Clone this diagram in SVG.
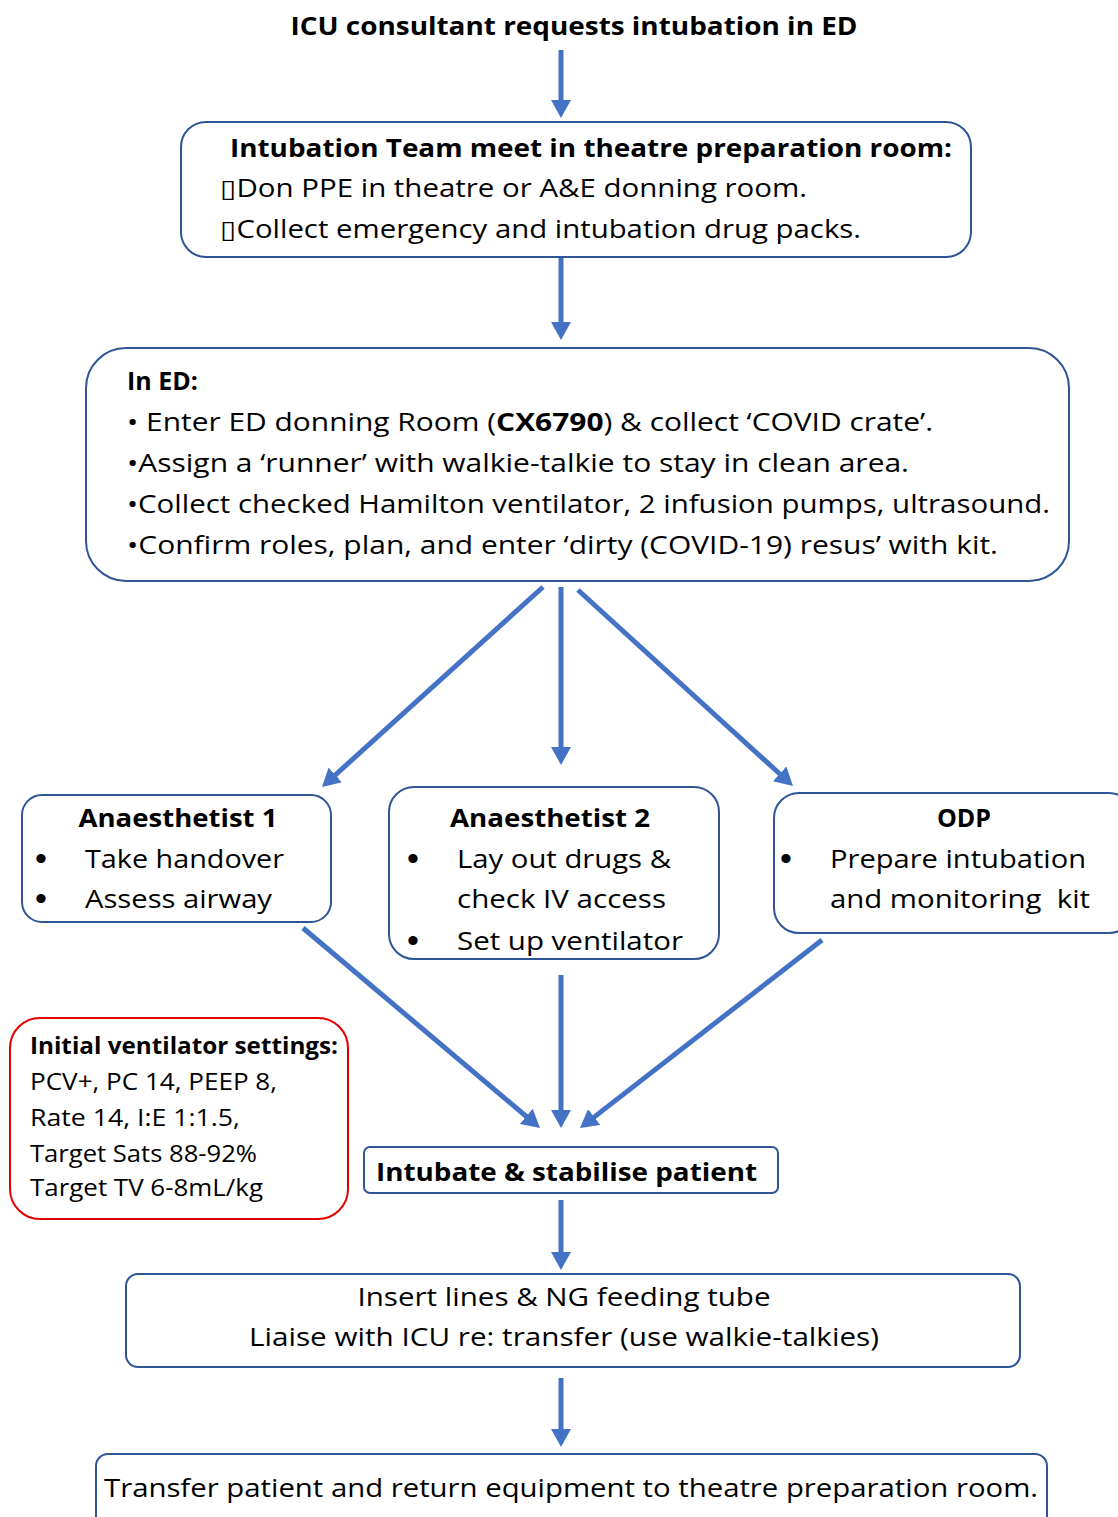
<svg xmlns="http://www.w3.org/2000/svg" width="1118" height="1517" viewBox="0 0 1118 1517">
<defs>
<style>
text{font-family:"Open Sans","Liberation Sans",sans-serif;fill:#000;white-space:pre;}
.t{font-size:25px;}
.b{font-size:25px;font-weight:bold;}
.s{font-size:23px;}
.sb{font-size:23px;font-weight:bold;}
.bul{font-size:34px;font-family:"Liberation Sans",sans-serif;}
.box{fill:#fff;stroke:#2F5597;stroke-width:2;}
.red{fill:#fff;stroke:#E00000;stroke-width:2;}
.c line{stroke:#4472C4;stroke-width:5;marker-end:url(#ah);}
</style>
<marker id="ah" markerUnits="userSpaceOnUse" markerWidth="18" markerHeight="20" refX="1" refY="10" orient="auto">
<path d="M0,0 L18,10 L0,20 z" fill="#4472C4"/>
</marker>
</defs>
<rect width="1118" height="1517" fill="#fff"/>

<g id="title"><text class="b" x="574" y="35" text-anchor="middle" textLength="567" lengthAdjust="spacingAndGlyphs">ICU consultant requests intubation in ED</text></g>

<g id="meet">
<rect class="box" x="181" y="122" width="790" height="135" rx="25"/>
<text class="b" x="230" y="157" textLength="722" lengthAdjust="spacingAndGlyphs">Intubation Team meet in theatre preparation room:</text>
<text class="t" x="220" y="197" textLength="587" lengthAdjust="spacingAndGlyphs">▯Don PPE in theatre or A&amp;E donning room.</text>
<text class="t" x="220" y="238" textLength="641" lengthAdjust="spacingAndGlyphs">▯Collect emergency and intubation drug packs.</text>
</g>

<g id="ined">
<rect class="box" x="86" y="348" width="983" height="233" rx="40"/>
<text class="b" x="127" y="390">In ED:</text>
<text class="t" x="127" y="431" textLength="806" lengthAdjust="spacingAndGlyphs">• Enter ED donning Room (<tspan font-weight="bold">CX6790</tspan>) &amp; collect ‘COVID crate’.</text>
<text class="t" x="127" y="472" textLength="782" lengthAdjust="spacingAndGlyphs">•Assign a ‘runner’ with walkie-talkie to stay in clean area.</text>
<text class="t" x="127" y="513" textLength="923" lengthAdjust="spacingAndGlyphs">•Collect checked Hamilton ventilator, 2 infusion pumps, ultrasound.</text>
<text class="t" x="127" y="554" textLength="871" lengthAdjust="spacingAndGlyphs">•Confirm roles, plan, and enter ‘dirty (COVID-19) resus’ with kit.</text>
</g>

<g id="anaes1">
<rect class="box" x="22" y="795" width="309" height="127" rx="20"/>
<text class="b" x="178" y="827" text-anchor="middle" textLength="199" lengthAdjust="spacingAndGlyphs">Anaesthetist 1</text>
<text class="bul" x="35" y="870">•</text>
<text class="t" x="85" y="868" textLength="199" lengthAdjust="spacingAndGlyphs">Take handover</text>
<text class="bul" x="35" y="910">•</text>
<text class="t" x="85" y="908" textLength="187" lengthAdjust="spacingAndGlyphs">Assess airway</text>
</g>

<g id="anaes2">
<rect class="box" x="389" y="787" width="330" height="172" rx="25"/>
<text class="b" x="550" y="827" text-anchor="middle" textLength="200" lengthAdjust="spacingAndGlyphs">Anaesthetist 2</text>
<text class="bul" x="407" y="870">•</text>
<text class="t" x="457" y="868" textLength="214" lengthAdjust="spacingAndGlyphs">Lay out drugs &amp;</text>
<text class="t" x="457" y="908" textLength="209" lengthAdjust="spacingAndGlyphs">check IV access</text>
<text class="bul" x="407" y="952">•</text>
<text class="t" x="457" y="950" textLength="226" lengthAdjust="spacingAndGlyphs">Set up ventilator</text>
</g>

<g id="odp">
<rect class="box" x="774" y="793" width="360" height="140" rx="25"/>
<text class="b" x="964" y="827" text-anchor="middle">ODP</text>
<text class="bul" x="780" y="870">•</text>
<text class="t" x="830" y="868" textLength="256" lengthAdjust="spacingAndGlyphs">Prepare intubation</text>
<text class="t" x="830" y="908" textLength="260" lengthAdjust="spacingAndGlyphs">and monitoring  kit</text>
</g>

<g id="vent">
<rect class="red" x="10" y="1018" width="338" height="201" rx="30"/>
<text class="sb" x="30" y="1054" textLength="308" lengthAdjust="spacingAndGlyphs">Initial ventilator settings:</text>
<text class="s" x="30" y="1090" textLength="247" lengthAdjust="spacingAndGlyphs">PCV+, PC 14, PEEP 8,</text>
<text class="s" x="30" y="1126" textLength="210" lengthAdjust="spacingAndGlyphs">Rate 14, I:E 1:1.5,</text>
<text class="s" x="30" y="1162" textLength="227" lengthAdjust="spacingAndGlyphs">Target Sats 88-92%</text>
<text class="s" x="30" y="1196" textLength="233" lengthAdjust="spacingAndGlyphs">Target TV 6-8mL/kg</text>
</g>

<g id="intubate">
<rect class="box" x="364" y="1147" width="414" height="46" rx="6"/>
<text class="b" x="376" y="1181" textLength="381" lengthAdjust="spacingAndGlyphs">Intubate &amp; stabilise patient</text>
</g>

<g id="lines">
<rect class="box" x="126" y="1274" width="894" height="93" rx="12"/>
<text class="t" x="564" y="1306" text-anchor="middle" textLength="413" lengthAdjust="spacingAndGlyphs">Insert lines &amp; NG feeding tube</text>
<text class="t" x="564" y="1346" text-anchor="middle" textLength="630" lengthAdjust="spacingAndGlyphs">Liaise with ICU re: transfer (use walkie-talkies)</text>
</g>

<g id="transfer">
<rect class="box" x="96" y="1454" width="951" height="80" rx="12"/>
<text class="t" x="104" y="1497" textLength="934" lengthAdjust="spacingAndGlyphs">Transfer patient and return equipment to theatre preparation room.</text>
</g>

<g id="connectors" class="c">
<line x1="561" y1="50" x2="561" y2="101"/>
<line x1="561" y1="258" x2="561" y2="323"/>
<line x1="543" y1="587" x2="334.6" y2="775.6"/>
<line x1="561" y1="587" x2="561" y2="748"/>
<line x1="578" y1="590" x2="780.4" y2="774.5"/>
<line x1="303" y1="928" x2="527" y2="1117"/>
<line x1="561" y1="975" x2="561" y2="1111"/>
<line x1="822" y1="940" x2="593.4" y2="1117.6"/>
<line x1="561" y1="1200" x2="561" y2="1253"/>
<line x1="561" y1="1378" x2="561" y2="1430"/>
</g>
</svg>
